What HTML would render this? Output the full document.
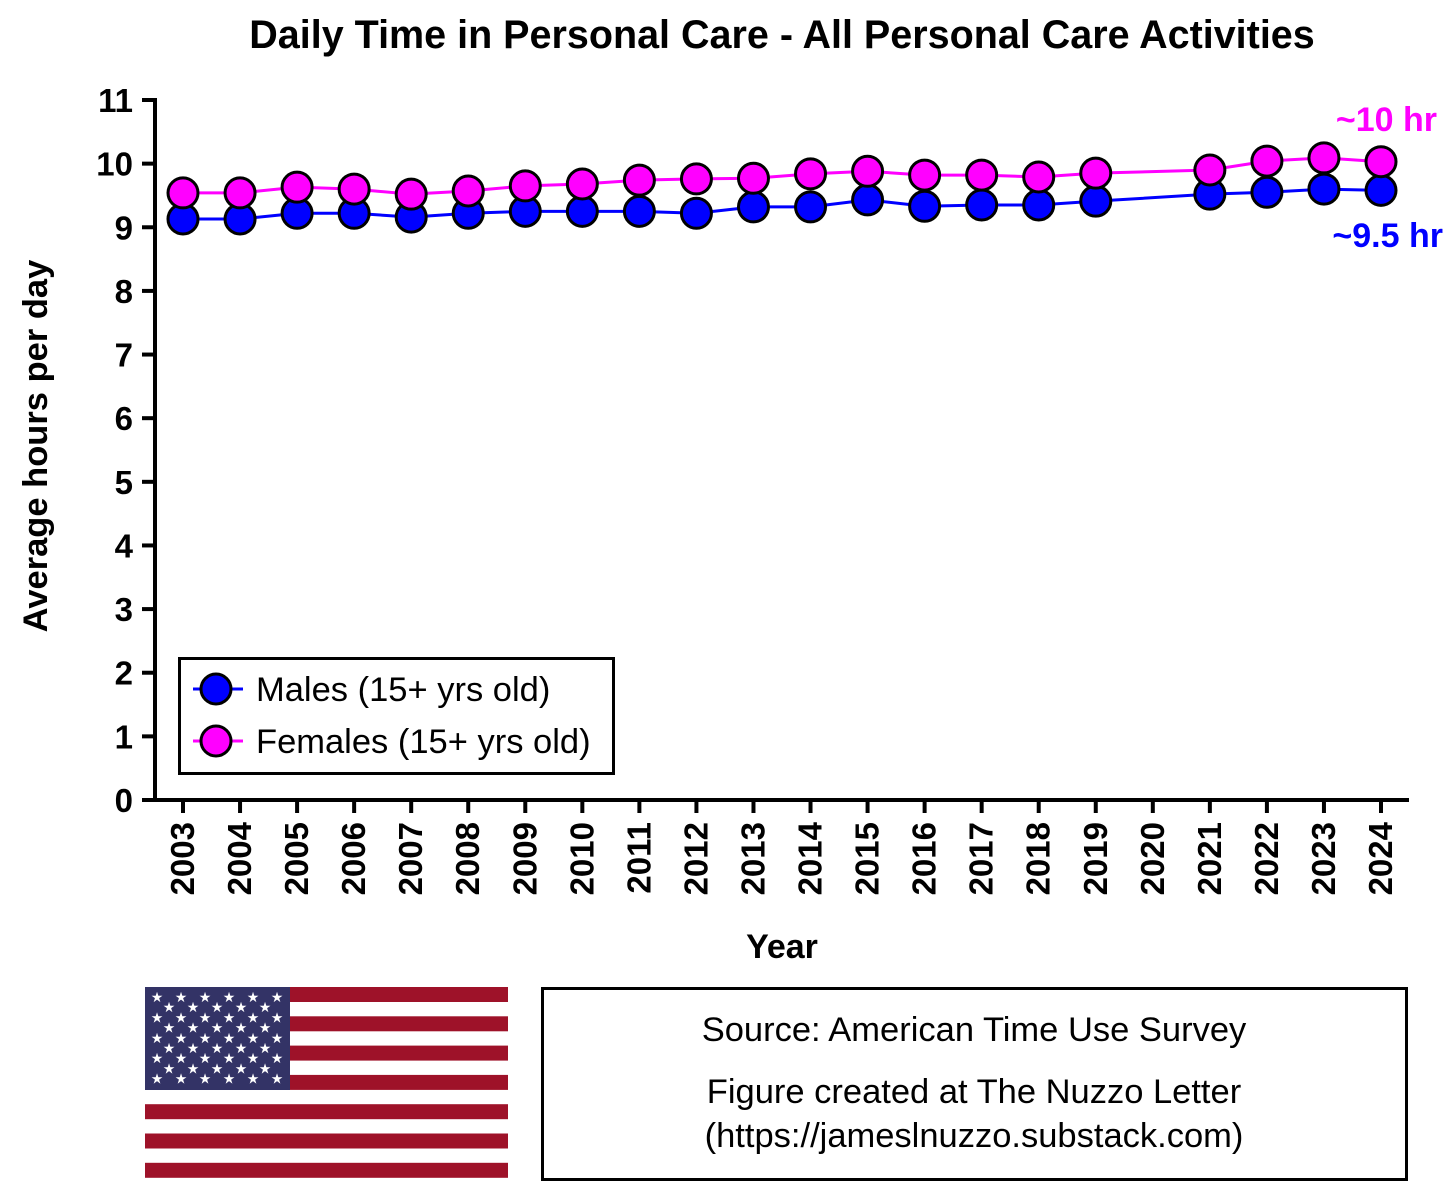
<!DOCTYPE html>
<html><head><meta charset="utf-8"><style>
body{margin:0;background:#fff;}
svg{display:block;font-family:"Liberation Sans",Arial,sans-serif;}
</style></head><body>
<svg id="c" width="1456" height="1185" viewBox="0 0 1456 1185" xmlns="http://www.w3.org/2000/svg">
<text x="782" y="48" text-anchor="middle" font-size="39.5" font-weight="bold">Daily Time in Personal Care - All Personal Care Activities</text>
<text transform="translate(47,446) rotate(-90)" text-anchor="middle" font-size="34.5" font-weight="bold">Average hours per day</text>
<text x="782" y="958" text-anchor="middle" font-size="34" font-weight="bold">Year</text>
<g id="axes"></g>
<g id="series"></g>
<text x="1437" y="131" text-anchor="end" font-size="34" font-weight="bold" fill="#ff00ff">~10 hr</text>
<text x="1443" y="247" text-anchor="end" font-size="34" font-weight="bold" fill="#0000ff">~9.5 hr</text>
<g>
<rect x="179.5" y="658.5" width="434" height="115" fill="#fff" stroke="#000" stroke-width="3"/>
<line x1="193" y1="689" x2="243" y2="689" stroke="#0000ff" stroke-width="3"/>
<circle cx="216" cy="689" r="15" fill="#0000ff" stroke="#000" stroke-width="3"/>
<text x="256" y="701" font-size="34.5">Males (15+ yrs old)</text>
<line x1="193" y1="741" x2="243" y2="741" stroke="#ff00ff" stroke-width="3"/>
<circle cx="216" cy="741" r="15" fill="#ff00ff" stroke="#000" stroke-width="3"/>
<text x="256" y="753" font-size="34.5">Females (15+ yrs old)</text>
</g>
<g id="flag"></g>
<g>
<rect x="542.5" y="988.5" width="864" height="191" fill="#fff" stroke="#000" stroke-width="3"/>
<text x="974" y="1041" text-anchor="middle" font-size="34.5">Source: American Time Use Survey</text>
<text x="974" y="1103" text-anchor="middle" font-size="34.5">Figure created at The Nuzzo Letter</text>
<text x="974" y="1147" text-anchor="middle" font-size="34.5">(https://jameslnuzzo.substack.com)</text>
</g>
</svg>
<script>
const years=[2003,2004,2005,2006,2007,2008,2009,2010,2011,2012,2013,2014,2015,2016,2017,2018,2019,2020,2021,2022,2023,2024];
const males=[9.13,9.13,9.22,9.22,9.16,9.22,9.25,9.25,9.25,9.22,9.32,9.32,9.43,9.33,9.35,9.35,9.41,null,9.52,9.55,9.60,9.58];
const females=[9.54,9.54,9.63,9.60,9.52,9.57,9.65,9.68,9.74,9.76,9.77,9.84,9.88,9.82,9.82,9.79,9.85,null,9.90,10.04,10.09,10.03];
const yTicks=[0,1,2,3,4,5,6,7,8,9,10,11];
const NS="http://www.w3.org/2000/svg";
const X=y=>183+(y-2003)*(1381-183)/21;
const Y=v=>800-v*700/11;
function mk(t,a,p){const e=document.createElementNS(NS,t);for(const k in a)e.setAttribute(k,a[k]);p.appendChild(e);return e;}
const ax=document.getElementById('axes');
const ya=mk('line',{x1:155,y1:98,x2:155,y2:801.5,stroke:'#000','stroke-width':4},ax);


const xa=mk('line',{x1:153,y1:800,x2:1409,y2:800,stroke:'#000','stroke-width':4},ax);


yTicks.forEach(v=>{
 mk('line',{x1:142,y1:Y(v),x2:155,y2:Y(v),stroke:'#000','stroke-width':4},ax);
 const t=mk('text',{x:133,y:Y(v)+12,'text-anchor':'end','font-size':33,'font-weight':'bold'},ax);
 t.textContent=v;
 
 
});
years.forEach(y=>{
 mk('line',{x1:X(y),y1:800,x2:X(y),y2:813,stroke:'#000','stroke-width':4},ax);
 const t=mk('text',{transform:`translate(${X(y)+11},822) rotate(-90)`,'text-anchor':'end','font-size':33,'font-weight':'bold'},ax);
 t.textContent=y;
 
 
});
const sg=document.getElementById('series');
function series(vals,color,name){
 const pts=years.map((y,i)=>vals[i]==null?null:[X(y),Y(vals[i])]).filter(p=>p);
 const pl=mk('polyline',{points:pts.map(p=>p.join(',')).join(' '),fill:'none',stroke:color,'stroke-width':3},sg);
 
 
 pts.forEach(p=>{
  const c=mk('circle',{cx:p[0],cy:p[1],r:15,fill:color,stroke:'#000','stroke-width':3},sg);
  
  
 });
}
series(males,'#0000ff','males');
series(females,'#ff00ff','females');
const fg=document.getElementById('flag');
for(let i=0;i<7;i++){mk('rect',{x:145,y:987+i*29.3,width:363,height:15,fill:'#9e1229'},fg);}
mk('rect',{x:145,y:987,width:145,height:103,fill:'#333366'},fg);
for(let r=0;r<9;r++){
 const n=r%2?5:6;
 for(let c=0;c<n;c++){
  const cx=157+c*24+(r%2?12:0), cy=997+r*10.2;
  const s=mk('text',{x:cx,y:cy+5,'text-anchor':'middle','font-size':14,fill:'#fff'},fg);
  s.textContent='★';
 }
}
</script>
</body></html>
